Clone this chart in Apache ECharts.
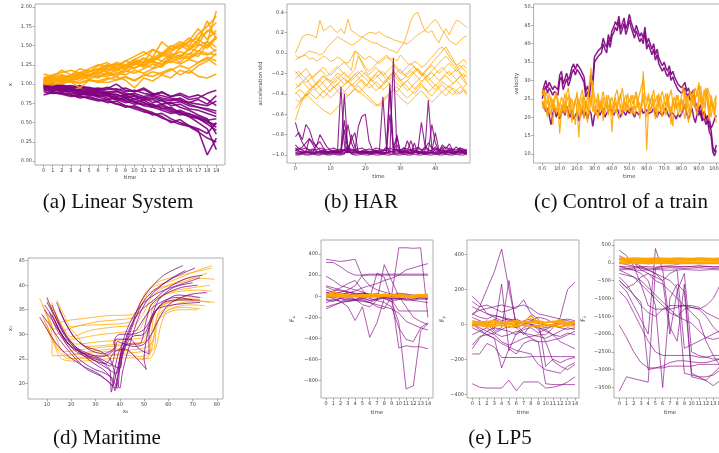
<!DOCTYPE html>
<html><head><meta charset="utf-8">
<script src="https://cdn.jsdelivr.net/npm/echarts@6/dist/echarts.min.js"></script>
<style>html,body{margin:0;padding:0;background:#fff}#c{width:719px;height:453px}</style>
</head><body><div id="c"></div>
<script>
// ---------- (a) Linear System ----------
const linOrange = [
[1.05,1.07,1.04,1.10,1.08,1.12,1.15,1.13,1.18,1.16,1.22,1.25,1.21,1.30,1.28,1.35,1.33,1.40,1.38,1.45],
[1.02,1.04,1.08,1.06,1.12,1.10,1.14,1.20,1.17,1.24,1.20,1.28,1.35,1.30,1.40,1.36,1.45,1.52,1.47,1.60],
[1.08,1.12,1.15,1.18,1.14,1.20,1.25,1.22,1.28,1.25,1.32,1.38,1.45,1.40,1.50,1.46,1.55,1.60,1.68,1.80],
[1.00,0.99,1.02,1.03,1.01,1.05,1.04,1.08,1.06,1.10,1.05,1.12,1.10,1.15,1.20,1.12,1.18,1.10,1.08,1.13],
[1.04,1.06,1.10,1.08,1.15,1.18,1.12,1.22,1.26,1.20,1.30,1.26,1.34,1.40,1.36,1.42,1.38,1.50,1.55,1.48],
[1.13,1.10,1.18,1.12,1.20,1.16,1.24,1.28,1.20,1.30,1.36,1.42,1.35,1.55,1.45,1.50,1.60,1.52,1.70,1.65],
[1.03,1.05,1.02,1.06,1.09,1.07,1.11,1.10,1.15,1.12,1.18,1.14,1.20,1.24,1.30,1.26,1.32,1.28,1.35,1.30],
[1.06,1.03,1.08,1.12,1.10,1.16,1.20,1.18,1.24,1.30,1.26,1.34,1.30,1.36,1.42,1.50,1.44,1.58,1.50,1.62],
[1.01,1.03,1.06,1.04,1.08,1.13,1.10,1.15,1.12,1.20,1.28,1.22,1.30,1.25,1.38,1.32,1.47,1.42,1.55,1.95],
[1.07,1.09,1.06,1.12,1.15,1.11,1.18,1.16,1.22,1.19,1.25,1.30,1.28,1.26,1.32,1.38,1.35,1.43,1.40,1.38],
[1.02,1.05,1.03,1.07,1.05,1.10,1.08,1.13,1.10,1.17,1.14,1.20,1.26,1.22,1.35,1.28,1.40,1.36,1.52,1.42],
[1.09,1.07,1.11,1.09,1.13,1.16,1.20,1.25,1.22,1.20,1.27,1.24,1.32,1.38,1.34,1.47,1.56,1.72,1.58,1.70],
[1.00,1.02,1.00,1.04,1.02,1.06,1.03,1.02,1.05,1.09,1.04,1.11,1.16,1.13,1.18,1.24,1.20,1.28,1.33,1.25],
[1.05,1.08,1.05,1.11,1.14,1.10,1.17,1.25,1.18,1.24,1.32,1.28,1.45,1.38,1.48,1.55,1.50,1.65,1.75,1.88],
[1.04,1.02,1.06,1.03,0.95,1.05,1.02,1.06,1.10,1.05,0.95,1.08,1.04,1.12,1.08,1.18,1.14,1.24,1.30,1.40],
[1.06,1.10,1.12,1.09,1.14,1.12,1.18,1.22,1.26,1.23,1.29,1.33,1.30,1.38,1.45,1.52,1.48,1.56,1.82,1.58]
];
const linPurple = [
[0.98,0.96,0.97,0.94,0.92,0.93,0.90,0.88,0.86,0.84,0.85,0.80,0.82,0.78,0.75,0.77,0.72,0.70,0.68,0.65],
[0.95,0.93,0.90,0.91,0.88,0.85,0.86,0.82,0.80,0.76,0.78,0.72,0.70,0.66,0.62,0.64,0.58,0.55,0.50,0.48],
[1.00,0.98,0.99,0.96,0.97,0.94,0.95,0.93,0.94,0.90,0.92,0.88,0.86,0.90,0.84,0.86,0.80,0.82,0.88,0.92],
[0.92,0.90,0.88,0.86,0.84,0.82,0.80,0.78,0.74,0.72,0.68,0.64,0.62,0.56,0.52,0.48,0.45,0.38,0.30,0.25],
[0.97,0.95,0.96,0.93,0.90,0.91,0.87,0.89,0.84,0.86,0.80,0.83,0.76,0.79,0.72,0.74,0.68,0.66,0.62,0.58],
[0.99,0.97,0.94,0.95,0.92,0.89,0.90,0.86,0.87,0.82,0.84,0.79,0.80,0.74,0.76,0.70,0.66,0.60,0.55,0.35],
[0.94,0.96,0.92,0.93,0.89,0.90,0.85,0.87,0.81,0.83,0.77,0.79,0.73,0.68,0.70,0.62,0.58,0.50,0.42,0.15],
[0.96,0.94,0.95,0.92,0.93,0.90,0.92,0.88,0.90,0.86,0.88,0.84,0.86,0.82,0.80,0.78,0.76,0.74,0.72,0.78],
[0.90,0.88,0.89,0.86,0.82,0.84,0.80,0.76,0.78,0.72,0.70,0.66,0.60,0.62,0.55,0.50,0.46,0.40,0.08,0.30],
[0.98,1.00,0.97,0.98,0.95,0.96,0.92,0.94,1.00,0.92,0.90,0.95,0.88,0.85,0.82,0.80,0.74,0.70,0.66,0.62],
[0.93,0.91,0.92,0.88,0.86,0.87,0.83,0.80,0.82,0.78,0.74,0.76,0.70,0.72,0.66,0.60,0.62,0.56,0.52,0.44],
[0.97,0.95,0.93,0.94,0.91,0.88,0.89,0.85,0.83,0.79,0.81,0.76,0.71,0.74,0.68,0.64,0.59,0.56,0.48,0.40],
[0.99,0.97,0.98,0.95,0.96,0.92,0.94,0.90,0.91,0.88,0.86,0.82,0.84,0.80,0.78,0.82,0.76,0.80,0.74,0.85],
[0.95,0.92,0.93,0.90,0.87,0.88,0.84,0.85,0.80,0.81,0.76,0.73,0.74,0.69,0.64,0.66,0.61,0.58,0.53,0.55],
[0.86,0.89,0.87,0.84,0.85,0.81,0.78,0.80,0.75,0.70,0.72,0.67,0.63,0.58,0.50,0.54,0.46,0.42,0.36,0.50],
[1.01,0.99,0.96,0.97,0.98,0.95,0.93,0.96,0.92,0.95,0.90,0.93,0.87,0.89,0.84,0.88,0.83,0.86,0.80,0.72]
];
const linTicksX = [0,1,2,3,4,5,6,7,8,9,10,11,12,13,14,15,16,17,18,19];
const linTicksY = [0,0.25,0.5,0.75,1,1.25,1.5,1.75,2];

// ---------- (b) HAR ----------
const harOrange = [
[0.00,0.08,0.16,0.18,0.18,0.17,0.15,0.32,0.22,0.24,0.27,0.23,0.20,0.24,0.19,0.33,0.22,0.20,0.17,0.16,0.14,0.12,0.10,0.10,0.08,0.06,0.05,0.03,0.02,0.00,0.05,0.10,0.20,0.32,0.38,0.40,0.30,0.22,0.20,0.22,0.15,0.10,0.18,0.24,0.18,0.26,0.32,0.31,0.28,0.25],
[-0.07,-0.04,-0.03,0.00,0.02,0.01,0.00,-0.02,0.00,0.05,0.09,0.12,0.16,0.14,0.12,0.10,0.08,0.09,0.12,0.15,0.18,0.20,0.20,0.19,0.21,0.18,0.16,0.15,0.13,0.12,0.11,0.10,0.09,0.12,0.15,0.18,0.20,0.22,0.26,0.30,0.33,0.28,0.22,0.18,0.12,0.10,0.08,0.12,0.15,0.17],
[-0.02,-0.05,-0.03,-0.02,-0.06,-0.05,-0.08,-0.06,-0.03,-0.05,-0.08,-0.07,-0.04,-0.06,-0.09,-0.10,-0.05,0.02,0.00,-0.04,-0.06,-0.03,-0.05,-0.08,-0.10,-0.07,-0.04,-0.06,-0.05,-0.08,-0.02,-0.06,-0.10,-0.12,-0.08,-0.10,-0.14,-0.12,-0.08,-0.04,0.00,0.04,0.06,0.02,-0.04,-0.08,-0.12,-0.10,-0.06,-0.10],
[-0.20,-0.18,-0.22,-0.25,-0.21,-0.26,-0.30,-0.27,-0.23,-0.25,-0.28,-0.24,-0.20,-0.22,-0.26,-0.29,-0.25,-0.21,-0.18,-0.22,-0.25,-0.28,-0.24,-0.20,-0.17,-0.21,-0.26,-0.23,-0.19,-0.22,-0.27,-0.25,-0.21,-0.18,-0.20,-0.24,-0.28,-0.25,-0.22,-0.19,-0.23,-0.27,-0.24,-0.20,-0.18,-0.22,-0.26,-0.23,-0.20,-0.24],
[-0.30,-0.33,-0.28,-0.25,-0.29,-0.34,-0.31,-0.27,-0.30,-0.35,-0.38,-0.33,-0.30,-0.34,-0.31,-0.27,-0.30,-0.33,-0.29,-0.26,-0.30,-0.34,-0.32,-0.28,-0.31,-0.36,-0.33,-0.29,-0.26,-0.30,-0.33,-0.30,-0.27,-0.31,-0.35,-0.32,-0.28,-0.25,-0.29,-0.33,-0.36,-0.32,-0.28,-0.31,-0.34,-0.30,-0.27,-0.31,-0.34,-0.30],
[-0.40,-0.36,-0.38,-0.42,-0.39,-0.35,-0.37,-0.41,-0.44,-0.40,-0.36,-0.33,-0.37,-0.41,-0.38,-0.34,-0.31,-0.35,-0.39,-0.36,-0.32,-0.29,-0.33,-0.37,-0.34,-0.30,-0.27,-0.31,-0.35,-0.38,-0.34,-0.30,-0.33,-0.37,-0.40,-0.36,-0.32,-0.35,-0.39,-0.42,-0.38,-0.34,-0.31,-0.35,-0.38,-0.41,-0.37,-0.33,-0.36,-0.40],
[-0.66,-0.55,-0.46,-0.40,-0.36,-0.33,-0.35,-0.32,-0.28,-0.25,-0.27,-0.30,-0.26,-0.22,-0.19,-0.23,-0.27,-0.24,-0.20,-0.17,-0.21,-0.25,-0.28,-0.24,-0.21,-0.18,-0.22,-0.26,-0.23,-0.19,-0.16,-0.20,-0.24,-0.21,-0.17,-0.15,-0.19,-0.23,-0.27,-0.24,-0.20,-0.17,-0.14,-0.18,-0.22,-0.19,-0.16,-0.20,-0.24,-0.21],
[-0.45,-0.48,-0.44,-0.40,-0.43,-0.47,-0.50,-0.53,-0.56,-0.58,-0.60,-0.57,-0.53,-0.49,-0.45,-0.42,-0.38,-0.35,-0.37,-0.40,-0.43,-0.46,-0.49,-0.52,-0.50,-0.46,-0.42,-0.39,-0.36,-0.40,-0.44,-0.47,-0.50,-0.47,-0.43,-0.40,-0.37,-0.41,-0.45,-0.48,-0.45,-0.41,-0.38,-0.35,-0.32,-0.36,-0.40,-0.38,-0.35,-0.38],
[-0.25,-0.22,-0.26,-0.29,-0.26,-0.23,-0.20,-0.17,-0.14,-0.18,-0.22,-0.19,-0.15,-0.12,-0.09,-0.13,-0.17,0.02,-0.02,-0.08,-0.14,-0.18,-0.15,-0.11,-0.08,-0.05,-0.02,-0.06,-0.10,-0.14,-0.18,-0.22,-0.19,-0.16,-0.13,-0.17,-0.21,-0.18,-0.14,-0.10,-0.06,-0.02,0.02,0.06,0.00,-0.06,-0.12,-0.18,-0.24,-0.30],
[-0.35,-0.31,-0.28,-0.32,-0.36,-0.33,-0.29,-0.25,-0.22,-0.26,-0.30,-0.34,-0.31,-0.27,-0.24,-0.28,-0.32,-0.29,-0.25,-0.22,-0.19,-0.23,-0.27,-0.31,-0.35,-0.32,-0.28,-0.24,-0.21,-0.25,-0.29,-0.33,-0.37,-0.34,-0.30,-0.27,-0.23,-0.20,-0.24,-0.28,-0.32,-0.29,-0.25,-0.22,-0.26,-0.30,-0.27,-0.23,-0.27,-0.31],
[-0.38,-0.42,-0.46,-0.43,-0.39,-0.42,-0.45,-0.41,-0.37,-0.40,-0.44,-0.41,-0.37,-0.34,-0.38,-0.42,-0.39,-0.35,-0.32,-0.36,-0.40,-0.43,-0.47,-0.50,-0.52,-0.48,-0.44,-0.40,-0.36,-0.33,-0.37,-0.41,-0.44,-0.41,-0.37,-0.33,-0.30,-0.34,-0.38,-0.35,-0.31,-0.35,-0.39,-0.42,-0.38,-0.34,-0.37,-0.40,-0.37,-0.41],
[-0.55,-0.50,-0.45,-0.41,-0.37,-0.33,-0.30,-0.34,-0.38,-0.35,-0.31,-0.27,-0.23,-0.27,-0.31,-0.28,-0.24,-0.20,-0.24,-0.28,-0.32,-0.29,-0.25,-0.21,-0.25,-0.29,-0.26,-0.22,-0.18,-0.22,-0.26,-0.30,-0.27,-0.23,-0.19,-0.16,-0.20,-0.24,-0.21,-0.17,-0.14,-0.10,-0.06,-0.03,-0.07,-0.11,-0.15,-0.12,-0.16,-0.19],
[-0.18,-0.22,-0.19,-0.15,-0.20,-0.24,-0.21,-0.17,-0.19,-0.23,-0.20,-0.16,-0.13,-0.17,-0.21,-0.24,-0.20,-0.16,-0.03,-0.10,-0.17,-0.21,-0.18,-0.14,-0.18,-0.22,-0.19,-0.15,-0.12,-0.16,-0.20,-0.17,-0.13,-0.10,-0.14,-0.18,-0.22,-0.19,-0.15,-0.12,-0.16,-0.20,-0.17,-0.13,-0.10,-0.14,-0.18,-0.15,-0.12,-0.15]
];
const harPurple = [
[-0.68,-0.80,-0.88,-0.93,-0.96,-0.97,-0.98,-0.98,-0.97,-0.98,-0.98,-0.97,-0.98,-0.33,-0.90,-0.97,-0.98,-0.97,-0.98,-0.98,-0.97,-0.98,-0.98,-0.97,-0.98,-0.98,-0.97,-0.98,-0.05,-0.95,-0.98,-0.97,-0.98,-0.98,-0.97,-0.98,-0.98,-0.97,-0.98,-0.97,-0.98,-0.98,-0.97,-0.98,-0.97,-0.98,-0.97,-0.98,-0.97,-0.98],
[-0.82,-0.78,-0.85,-0.70,-0.75,-0.86,-0.92,-0.95,-0.96,-0.97,-0.96,-0.97,-0.96,-0.97,-0.66,-0.92,-0.96,-0.97,-0.96,-0.97,-0.96,-0.97,-0.96,-0.97,-0.96,-0.43,-0.92,-0.96,-0.97,-0.96,-0.97,-0.96,-0.97,-0.96,-0.97,-0.96,-0.97,-0.96,-0.46,-0.94,-0.96,-0.97,-0.96,-0.97,-0.96,-0.97,-0.96,-0.97,-0.96,-0.97],
[-0.90,-0.94,-0.92,-0.88,-0.84,-0.88,-0.92,-0.80,-0.86,-0.92,-0.95,-0.96,-0.95,-0.96,-0.95,-0.96,-0.95,-0.96,-0.72,-0.62,-0.60,-0.86,-0.95,-0.96,-0.95,-0.96,-0.95,-0.30,-0.94,-0.95,-0.96,-0.95,-0.96,-0.95,-0.96,-0.95,-0.68,-0.90,-0.95,-0.96,-0.78,-0.95,-0.96,-0.95,-0.96,-0.95,-0.92,-0.96,-0.95,-0.96],
[-0.99,-0.99,-0.98,-0.99,-0.99,-0.98,-0.99,-0.99,-0.98,-0.99,-0.99,-0.98,-0.99,-0.99,-0.75,-0.96,-0.85,-0.78,-0.98,-0.99,-0.98,-0.99,-0.99,-0.98,-0.99,-0.99,-0.98,-0.99,-0.99,-0.80,-0.98,-0.99,-0.99,-0.98,-0.88,-0.99,-0.98,-0.99,-0.99,-0.98,-0.99,-0.99,-0.98,-0.99,-0.99,-0.98,-0.99,-0.99,-0.98,-0.99],
[-0.95,-0.97,-0.96,-0.97,-0.84,-0.90,-0.96,-0.97,-0.96,-0.97,-0.96,-0.97,-0.96,-0.97,-0.96,-0.70,-0.88,-0.96,-0.97,-0.96,-0.97,-0.96,-0.97,-0.96,-0.97,-0.96,-0.92,-0.97,-0.96,-0.90,-0.96,-0.93,-0.96,-0.86,-0.96,-0.97,-0.96,-0.92,-0.96,-0.70,-0.88,-0.96,-0.90,-0.94,-0.89,-0.96,-0.97,-0.93,-0.96,-0.95],
[-0.93,-0.96,-0.98,-0.97,-0.98,-0.97,-0.90,-0.87,-0.93,-0.97,-0.98,-0.97,-0.98,-0.97,-0.40,-0.97,-0.98,-0.97,-0.98,-0.97,-0.98,-0.97,-0.98,-0.97,-0.98,-0.97,-0.98,-0.35,-0.97,-0.98,-0.97,-0.98,-0.97,-0.98,-0.97,-0.98,-0.97,-0.98,-0.97,-0.98,-0.94,-0.97,-0.92,-0.98,-0.95,-0.97,-0.98,-0.94,-0.98,-0.97],
[-1.00,-1.00,-0.99,-1.00,-1.00,-0.99,-1.00,-1.00,-0.99,-1.00,-1.00,-0.99,-1.00,-1.00,-0.99,-0.90,-0.99,-1.00,-1.00,-0.99,-1.00,-1.00,-0.99,-1.00,-1.00,-0.99,-1.00,-1.00,-0.99,-1.00,-1.00,-0.99,-1.00,-1.00,-0.99,-1.00,-1.00,-0.99,-1.00,-1.00,-0.99,-1.00,-1.00,-0.99,-1.00,-1.00,-0.99,-1.00,-1.00,-0.99],
[-0.96,-0.93,-0.95,-0.97,-0.96,-0.95,-0.97,-0.96,-0.95,-0.97,-0.96,-0.95,-0.97,-0.96,-0.95,-0.97,-0.96,-0.95,-0.97,-0.96,-0.95,-0.97,-0.96,-0.95,-0.97,-0.96,-0.95,-0.97,-0.96,-0.95,-0.97,-0.96,-0.86,-0.95,-0.97,-0.92,-0.95,-0.97,-0.96,-0.95,-0.92,-0.96,-0.95,-0.97,-0.93,-0.95,-0.97,-0.96,-0.95,-0.97],
[-0.97,-0.98,-0.97,-0.98,-0.97,-0.98,-0.97,-0.98,-0.97,-0.98,-0.97,-0.98,-0.97,-0.98,-0.97,-0.98,-0.80,-0.92,-0.97,-0.98,-0.97,-0.98,-0.97,-0.98,-0.97,-0.98,-0.97,-0.60,-0.93,-0.82,-0.97,-0.98,-0.97,-0.98,-0.97,-0.98,-0.97,-0.98,-0.97,-0.98,-0.97,-0.98,-0.97,-0.98,-0.97,-0.98,-0.97,-0.98,-0.97,-0.98],
[-0.94,-0.95,-0.94,-0.93,-0.95,-0.94,-0.95,-0.93,-0.94,-0.95,-0.94,-0.93,-0.95,-0.94,-0.95,-0.93,-0.94,-0.95,-0.94,-0.93,-0.95,-0.94,-0.95,-0.93,-0.94,-0.95,-0.94,-0.93,-0.95,-0.94,-0.95,-0.93,-0.94,-0.95,-0.94,-0.93,-0.95,-0.94,-0.88,-0.93,-0.94,-0.95,-0.94,-0.92,-0.95,-0.94,-0.95,-0.93,-0.94,-0.95],
[-0.98,-0.99,-0.98,-0.96,-0.98,-0.99,-0.98,-0.96,-0.98,-0.99,-0.98,-0.96,-0.98,-0.99,-0.98,-0.96,-0.98,-0.99,-0.98,-0.96,-0.98,-0.99,-0.98,-0.96,-0.98,-0.99,-0.98,-0.96,-0.98,-0.99,-0.98,-0.96,-0.98,-0.99,-0.98,-0.96,-0.98,-0.99,-0.98,-0.96,-0.98,-0.99,-0.98,-0.96,-0.98,-0.99,-0.98,-0.96,-0.98,-0.99]
];
const harTicksX = [0,10,20,30,40];
const harTicksY = [-1.0,-0.8,-0.6,-0.4,-0.2,0.0,0.2,0.4];

// ---------- (c) Control of a train ----------
const trainPurple = [
[26.5,28.5,30.0,28.0,29.5,30.0,27.5,28.5,29.0,27.5, 31.5,32.5,29.0,30.5,32.0,30.0,31.5,33.5,34.5,33.0, 34.5,34.0,33.0,33.5,31.0,27.0,28.5,26.5,31.5,30.0, 36.5,37.0,38.0,37.5,39.0,41.5,40.0,39.0,42.5,40.5, 43.5,44.5,46.0,45.0,47.5,44.0,45.5,47.0,44.0,45.5, 48.0,46.0,44.5,43.0,45.0,43.5,42.0,43.0,41.5,44.5, 40.0,41.5,42.0,38.5,40.0,37.0,38.5,36.0,36.5,34.0, 35.0,33.5,32.5,34.0,31.5,32.5,31.0,30.0,29.0,29.5, 28.0,27.5,29.5,27.0,28.0,26.0,25.5,27.5,24.0,23.0, 22.0,23.5,20.5,21.5,19.5,20.5,17.5,16.5,12.0,10.5, 12.5],
[25.0,27.0,28.5,26.5,28.0,28.5,26.0,27.0,27.5,26.0, 30.0,31.0,27.5,29.0,30.5,28.5,30.0,32.0,33.0,31.5, 33.0,32.5,31.5,32.0,29.5,25.5,27.0,25.0,30.0,28.5, 35.0,35.5,36.5,36.0,37.5,40.0,38.5,37.5,41.0,39.0, 42.0,43.0,44.5,43.5,46.0,42.5,44.0,45.5,42.5,44.0, 46.5,44.5,43.0,41.5,43.5,42.0,40.5,41.5,40.0,43.0, 38.5,40.0,40.5,37.0,38.5,35.5,37.0,34.5,35.0,32.5, 33.5,32.0,31.0,32.5,30.0,31.0,29.5,28.5,27.5,28.0, 26.5,26.0,28.0,25.5,26.5,24.5,24.0,26.0,22.5,21.5, 20.5,22.0,19.0,20.0,18.0,19.0,16.0,15.0,10.5,9.5, 11.0],
[24.0,23.0,21.5,22.5,20.5,18.0,21.0,22.5,20.0,21.5, 19.5,21.0,22.0,20.5,23.0,21.5,20.0,22.0,19.5,20.5, 21.5,19.0,20.5,22.0,20.0,21.5,19.5,22.0,21.0,17.5, 20.5,21.0,22.0,20.5,21.5,22.5,20.0,21.0,22.0,21.5, 22.0,20.5,21.5,22.5,21.0,20.0,22.0,21.5,20.5,22.0, 21.0,22.5,21.0,20.0,21.5,22.0,20.5,22.5,21.0,20.5, 22.0,21.0,20.5,21.5,22.5,21.0,20.0,21.5,22.0,20.5, 21.5,22.5,21.0,20.0,21.5,22.0,20.5,19.5,21.0,20.0, 20.5,22.0,23.5,21.0,19.5,21.0,22.5,20.0,18.5,21.0, 22.0,20.5,19.0,21.5,20.0,18.5,19.5,17.0,18.0,19.5, 20.5]
];
const trainOrange = [
[27.5,26.0,24.0,21.0,23.5,25.5,22.0,24.5,26.0,23.0, 15.5,22.0,23.5,21.0,24.0,26.0,22.5,20.0,23.5,25.0, 22.0,14.5,23.0,25.5,21.5,24.0,22.0,29.0,33.5,25.0, 21.0,23.5,25.0,22.0,24.5,21.5,23.0,26.0,22.5,24.0, 16.0,23.5,25.5,22.0,24.5,26.5,23.0,21.5,24.0,22.5, 25.0,23.5,21.0,24.5,26.0,22.5,24.0,21.5,32.5,25.0, 11.0,22.0,24.5,26.0,23.0,21.5,24.0,26.5,22.5,20.0, 24.5,23.0,26.0,22.0,18.0,24.5,25.5,22.0,24.0,21.5, 25.0,23.5,27.5,22.0,18.5,24.0,26.5,23.0,25.0,27.0, 29.5,24.0,21.5,26.0,28.0,23.5,19.0,24.5,22.0,20.5, 24.0],
[24.5,22.0,27.0,25.5,22.5,20.5,25.0,23.0,21.5,24.5, 22.0,20.5,24.0,26.5,21.5,23.0,25.5,18.5,22.0,24.0, 27.0,21.0,20.0,23.5,26.0,22.5,18.5,25.5,23.0,30.0, 24.0,22.0,19.5,24.0,22.5,25.5,21.0,23.5,20.5,25.0, 22.0,24.0,21.0,23.5,25.5,22.0,20.5,24.5,26.0,23.0, 21.5,24.5,26.0,22.0,23.5,25.0,21.0,23.0,26.5,22.0, 23.5,25.5,21.5,23.0,25.0,22.5,20.0,24.0,25.5,23.5, 21.5,24.0,26.5,23.0,21.0,25.0,22.5,24.5,26.0,23.0, 21.0,24.5,22.0,26.0,23.5,21.0,25.5,27.5,24.0,22.0, 26.5,28.5,25.0,22.5,27.0,24.5,21.5,26.0,23.5,22.0, 25.5],
[22.5,24.5,22.0,20.0,24.0,22.5,18.0,23.5,21.0,22.5, 20.0,23.5,21.5,24.5,22.0,19.5,25.0,22.5,21.0,18.0, 23.5,25.0,21.0,23.0,19.5,24.5,22.0,20.5,26.0,21.5, 23.0,20.5,24.0,21.5,23.5,19.0,22.5,24.5,21.0,23.0, 20.5,22.5,24.0,21.0,19.5,23.5,22.0,25.0,21.5,23.5, 24.0,21.0,23.0,20.5,22.5,24.5,19.5,23.0,25.5,22.0, 20.0,23.5,21.5,24.0,22.0,19.5,23.0,25.0,21.0,23.5, 22.0,20.5,24.0,21.5,23.0,17.5,22.5,24.0,20.5,22.0, 24.5,22.0,19.5,23.5,22.0,20.0,23.0,25.5,22.5,20.5, 24.0,26.5,22.0,19.5,24.5,27.5,22.0,20.0,23.5,21.5, 18.5],
[26.0,27.5,25.0,23.5,26.5,24.0,22.5,25.5,27.0,24.5, 23.0,25.5,24.0,22.0,26.5,28.0,23.5,25.0,22.5,24.5, 26.0,23.0,25.5,27.5,24.0,22.5,26.0,27.5,31.0,28.0, 25.5,24.0,26.5,23.5,25.0,27.0,24.5,22.5,26.0,24.0, 25.5,23.0,26.0,27.5,24.0,25.5,28.0,24.5,23.0,26.5, 24.0,26.0,23.5,25.5,27.0,24.5,26.5,28.5,30.5,26.0, 24.5,26.5,23.5,25.0,27.5,24.0,26.0,23.5,25.5,27.0, 24.5,26.5,23.0,25.5,27.5,24.0,22.5,26.0,24.5,23.0, 26.0,28.5,24.5,22.5,25.5,27.0,24.0,26.5,28.0,25.5, 28.5,26.0,23.5,27.5,25.0,28.0,26.5,24.0,22.5,24.5, 26.0]
];
const trainTicksX = [0,10,20,30,40,50,60,70,80,90,100];
const trainTicksY = [10,15,20,25,30,35,40,45,50];

// ---------- (d) Maritime (x0, x1) ----------
const marOrange = [
[[7,37.3],[10,34],[13,31],[16,32.5],[25,33.2],[35,33.8],[45,34],[48,35.5],[50,38],[55,40.5],[65,42],[78,43.5]],
[[8,36],[11,33],[14,30],[18,31],[30,32.5],[40,33],[46,33.5],[49,36],[52,38.5],[60,40],[70,41.5],[79,41.2]],
[[10,37],[13,34],[16,31],[20,29],[30,29.8],[42,30.5],[48,31],[51,34],[54,37],[62,38.5],[72,39],[78,38.8]],
[[12,36.5],[14,33.5],[17,30.5],[22,28],[32,28.5],[44,29],[50,29.5],[53,32.5],[56,35.5],[64,37],[74,37.5]],
[[9,35],[12,30],[12.2,25.6],[20,25.8],[35,26.5],[48,27],[53,28],[55,33],[58,36],[68,37],[77,36.5]],
[[11,33],[14,29],[17,26],[21,25],[30,25.2],[40,26],[50,26.5],[54,27],[55,31],[57,34],[65,35.5],[73,35.2]],
[[13,35],[16,32],[20,29.5],[28,30.8],[38,31.5],[46,32],[50,34.5],[53,37.5],[58,39.5],[68,41],[76,42.5]],
[[15,35.5],[18,32],[22,30],[26,27.5],[35,27.8],[45,28.2],[51,28.5],[54,31],[56,34],[62,36],[72,36.8],[79,36.5]],
[[8,34],[11,30],[15,26.5],[19,25],[28,25.5],[40,25.8],[48,25.5],[52,26],[53,30],[55,35],[62,37],[70,38]],
[[10,32],[13,28],[16,25],[23,24.5],[35,25],[45,25.2],[52,25],[55,27.5],[57,32],[60,35],[70,36],[75,35.8]],
[[14,37],[17,34],[20,31.5],[24,31.8],[34,32],[44,32.5],[47,34.5],[49,37],[53,39.5],[62,41],[72,43],[78,44]],
[[9,33],[12,29.5],[15,27],[18,26.5],[26,27],[36,27.5],[46,28],[50,28.5],[52,31],[54,36],[60,38.5],[70,39.5],[77,40]],
[[11,36],[14,32],[18,28],[22,26],[28,26.5],[38,27],[44,26.5],[48,24.8],[52,25.5],[54,29],[56,33],[64,35],[72,35]]
];
const marPurple = [
[[8,34],[11,32],[15,29],[20,26],[26,23],[32,21.5],[36,20],[38,19],[39,21],[40,25],[42,28],[45,32],[48,36],[52,39],[58,42],[66,44]],
[[10,37.5],[13,34],[17,30],[22,27],[28,24.5],[34,22.5],[37,20.5],[38,18.5],[39.5,22],[41,26],[44,30],[47,34],[51,37.5],[57,40],[64,42],[71,43.5]],
[[12,36],[15,32.5],[19,29],[24,26.5],[30,24.5],[35,23],[38.5,22],[40,24.5],[41,28],[43,31],[46,34],[50,36.5],[56,38.5],[64,40],[73,41.5]],
[[9,35],[12,33],[16,30],[21,27.5],[27,25.5],[32,24.5],[36,22.5],[36.5,18.2],[38,23],[40,27],[43,29],[47,31],[51,34],[55,36],[63,37.5],[70,37]],
[[11,34.5],[14,31],[18,28],[23,25],[29,23],[34,22],[37,21],[39,19],[40,23],[42,27],[45,29.5],[50,30],[52,32],[55,35],[62,36],[73,36.5]],
[[13,33],[16,30],[20,27.5],[26,26],[33,25.5],[38,27],[39,28.5],[42,28],[46,27.5],[50,28],[53,30],[56,33],[60,36],[68,38],[76,38.5]],
[[10,36.5],[14,33],[18,29.5],[23,27],[30,25.5],[36,24],[40,23],[41,26],[43,30],[46,33],[49,35],[54,37],[60,39.5],[68,41.5],[74,42]],
[[7,33.5],[10,31],[14,28],[19,25.5],[25,23.5],[31,22],[35,20.5],[37,19.5],[38,21],[39.5,24],[41,27],[43.5,28],[48,28],[51,33],[53,36],[58,38],[65,39.5],[72,40]],
[[15,35],[18,32],[22,29],[27,27],[33,26],[38,27.5],[38,29],[40,30],[45,30],[50,31],[53,33.5],[56,37],[62,39.5],[70,40.5]],
[[12,34],[15,31],[19,28],[25,26],[31,25],[36,23.5],[38,27],[37.5,28.5],[39,29],[44,29],[48,27],[52,26],[52,30],[54,34],[58,36.5],[66,37],[73,37]],
[[9,36],[13,33],[17,29],[22,26.5],[28,25],[34,24],[38,26.5],[42,27],[47,25],[51,22.8],[50,25],[51,29],[53,33],[57,36],[64,38],[73,37.5]],
[[14,36.5],[17,33],[21,29.5],[26,27.5],[32,26.5],[36,25],[39,20],[40,19],[41,22],[43,26],[46,31],[49,35],[53,38],[60,41],[67,43]]
];
const marTicksX = [10,20,30,40,50,60,70,80];
const marTicksY = [20,25,30,35,40,45];

// ---------- (e) LP5 ----------
const lpXOrange = [
[0,45,15,5,0,-5,0,5,20,10,0,-5,0,5,0],
[10,20,5,0,10,15,5,0,10,5,15,10,5,10,20],
[-10,0,-5,-10,-5,0,-10,-5,0,-10,-5,-10,-15,-5,-10],
[5,10,20,15,5,10,15,20,10,15,5,0,10,15,5]
];
const lpXPurple = [
[60,40,30,20,10,30,20,0,10,-10,20,0,-20,10,0],
[-40,-30,-50,-20,-30,-10,-40,-20,-10,-30,-20,-40,-30,-10,-20],
[20,30,10,40,20,30,10,20,0,10,30,20,10,0,10],
[-60,-40,-20,-50,-30,-40,-60,-30,-20,-50,-30,-10,-40,-20,-30],
[90,60,50,40,30,20,10,0,-10,-20,-10,0,10,0,-10],
[-120,-90,-60,-40,-30,-20,-40,-30,-10,-20,-30,-20,-10,-30,-20],
[190,150,100,80,60,40,20,10,0,-10,-20,-30,-40,-50,-60],
[40,10,-10,20,0,-20,10,30,0,-10,10,20,0,-10,10],
[350,340,330,340,350,180,100,60,40,20,10,0,-20,-10,-10],
[320,320,280,230,200,200,200,200,200,200,200,200,200,200,200],
[0,-20,-50,-100,-230,-100,-390,-250,-20,-50,-250,-880,-850,-330,-260],
[0,10,0,-10,0,20,10,0,-20,0,460,460,455,460,-200],
[-100,-80,-60,-50,-40,-30,-60,-100,-120,0,-490,-470,-480,-480,-500],
[30,50,80,120,150,60,-20,220,180,-30,-140,-140,-140,-140,-140],
[-30,-50,-20,0,-30,-80,-100,-40,300,150,0,-100,-200,-240,-270],
[100,80,60,40,20,0,-20,-40,-60,-100,-300,-410,-430,-300,-250],
[0,20,40,60,100,200,210,210,210,210,210,210,210,210,210],
[0,-10,-20,-30,-40,-50,-60,-80,-100,-120,-160,-240,-270,-300,-320],
[-20,0,10,30,50,80,100,120,150,170,200,250,270,290,310]
];
const lpYOrange = [
[0,5,-5,0,5,0,-5,10,50,5,0,-5,5,0,5],
[10,15,5,10,15,5,10,15,10,5,10,15,10,5,10],
[-10,-5,-15,-10,-5,-15,-10,-5,-10,-15,-5,-10,-15,-5,-10],
[20,10,15,20,10,15,20,10,15,20,10,15,20,10,15]
];
const lpYPurple = [
[160,120,60,40,20,30,10,0,20,10,-10,0,10,-10,0],
[-140,-80,-40,-20,-30,-10,-20,0,-10,-20,-30,-10,-20,-30,-20],
[100,80,60,50,40,30,20,10,0,-10,-20,-10,0,10,0],
[130,100,110,90,70,80,100,110,90,60,50,40,30,20,10],
[-60,-40,-20,-50,-30,-40,-60,-30,-20,-50,-30,-60,-40,-20,-30],
[40,20,0,30,10,-20,0,20,30,10,-10,0,-20,10,0],
[-20,-40,-60,-50,-70,-60,-40,-50,-60,-70,-80,-60,-70,-50,-60],
[60,40,30,50,40,20,30,10,20,40,30,10,20,30,20],
[50,100,200,300,430,200,0,-50,-80,-100,-100,-90,-80,-60,-40],
[0,0,20,-30,230,-150,-50,-20,0,-20,-40,-60,-100,-120,-140],
[-10,20,0,-40,-20,250,-20,-60,0,-30,-100,-210,-240,-260,-230],
[-340,-360,-365,-365,-365,-320,-380,-330,-330,-330,-365,-360,-350,-330,-300],
[-170,-170,-110,-130,-190,-190,-190,-190,-185,-185,-185,-185,-185,-185,-185],
[-120,-70,-60,-80,-250,-140,-170,-110,-90,-100,-340,-345,-345,-345,-345],
[0,-20,-40,-60,-100,-120,-100,-80,-70,-60,-60,-20,40,200,240],
[60,80,90,100,110,100,90,140,60,30,-240,-200,-220,-200,-190],
[0,-30,-60,-80,-110,-130,-150,-160,-170,-230,-260,-270,-280,-240,-220]
];
const lpZOrange = [
[100,90,100,95,90,100,95,90,100,95,90,100,95,90,100],
[50,60,50,55,60,50,55,60,50,55,60,50,55,60,50],
[0,10,0,5,10,0,5,10,0,5,10,0,5,10,0],
[130,120,130,125,120,130,125,120,130,125,120,130,125,120,130],
[-20,-10,-20,-15,-10,-20,-15,-10,-20,-15,-10,-20,-15,-10,-20]
];
const lpZPurple = [
[-100,-110,-120,-100,-110,-120,-100,-110,-120,-100,-110,-120,-100,-110,-120],
[-200,-190,-200,-210,-200,-190,-200,-210,-200,-190,-200,-210,-200,-190,-200],
[0,-20,-10,0,-30,-10,0,-20,-40,-10,0,-30,-20,-10,0],
[-150,-160,-150,-140,-150,-160,-150,-140,-150,-160,-150,-140,-150,-160,-150],
[100,80,60,50,40,60,50,40,50,60,100,120,80,60,50],
[350,200,-100,-600,-1200,-1300,-1300,-1300,-1250,-1200,-1200,-1250,-1400,-1500,-1600],
[-3600,-3200,-3250,-3300,-3350,-150,-100,-80,-100,-120,-100,-80,-100,-120,-100],
[-1750,-2100,-2500,-2800,-2950,-2950,-2900,-2800,-2750,-2750,-2780,-2800,-2800,-2750,-2700],
[-500,-700,-900,-1100,-3000,-2950,-2950,-2900,-2900,-2900,-2900,-2850,-2850,-2850,-2850],
[-600,-800,-1200,-1600,-2000,400,-200,-1800,-2200,-600,-3100,-3200,-3200,-3150,-3000],
[-100,-150,-200,-300,-500,-1200,-3500,-1000,-600,-800,-3200,-3250,-3300,-3100,-2900],
[-300,-350,-400,-600,-800,-1000,-1200,-1400,-1500,-1300,-1250,-1300,-1500,-1800,-2000],
[-800,-1000,-1400,-1800,-2200,-2500,-2600,-2600,-2600,-2600,-2600,-2650,-2650,-2600,-2600],
[100,50,0,-100,-200,-300,-500,-2000,-800,-300,-2500,-2600,-2650,-2700,-2700],
[-200,-300,-400,-500,-700,-900,-1100,-1300,-1500,-1600,-1700,-1900,-2100,-2150,-2100],
[0,-50,-100,-150,-200,-300,-400,-500,-700,-3100,-3150,-3200,-3300,-3450,-3300],
[-400,-600,-900,-1200,-1400,-1500,-1300,-1200,-1200,-1200,-1250,-1300,-1200,-1000,-600],
[200,100,0,-200,-300,-400,-500,-300,-200,-2400,-2300,-2200,-2100,-2000,-1900],
[-500,-700,-600,-400,-300,-500,-600,-800,-1000,-1200,-1400,-1600,-2200,-2600,-2900]
];
const lpTicksX = [0,1,2,3,4,5,6,7,8,9,10,11,12,13,14];
const lpXTicksY = [-800,-600,-400,-200,0,200,400];
const lpYTicksY = [-400,-200,0,200,400];
const lpZTicksY = [-3500,-3000,-2500,-2000,-1500,-1000,-500,0,500];

const captions = ['(a) Linear System','(b) HAR','(c) Control of a train','(d) Maritime','(e) LP5'];

// ---------- build ----------
const ORANGE = '#FFA500', PURPLE = '#800080';
const TXT = '#444', FONT = 'DejaVu Sans';
const minus = s => String(s).replace('-', '\u2212');

const gridPos = [
  {left:35, top:4, width:190, height:161},
  {left:287, top:4, width:183, height:159},
  {left:533.6, top:4, width:191.4, height:159},
  {left:28, top:258, width:195, height:141},
  {left:321, top:240, width:112, height:158},
  {left:467, top:240, width:112, height:158},
  {left:614, top:240, width:112, height:158}
];
const grid = gridPos.map(g => Object.assign({show:true, borderColor:'#9a9a9a', borderWidth:0.8, backgroundColor:'#fff', containLabel:false, outerBoundsMode:'none'}, g));

function axis(gi, min, max, ticks, fmt, name, gap, nameRich) {
  const a = {
    type:'value', gridIndex:gi, min, max, scale:true,
    axisLine:{show:false, onZero:false}, splitLine:{show:false},
    axisTick:{show:true, length:2.5, customValues:ticks, lineStyle:{color:'#777', width:0.6}},
    axisLabel:{show:true, customValues:ticks, formatter:fmt, fontSize:5, color:TXT, fontFamily:FONT, margin:3},
    name, nameLocation:'middle', nameGap:gap,
    nameTextStyle:{fontSize:5.5, color:TXT, fontFamily:FONT}
  };
  if (nameRich) a.nameTextStyle.rich = nameRich;
  return a;
}
const fInt = v => minus(Math.round(v));
const f1 = v => minus(v.toFixed(1));
const f2 = v => minus(v.toFixed(2));
const subRich = {f:{fontSize:6, color:TXT, fontFamily:FONT}, s:{fontSize:4, color:TXT, fontFamily:FONT, padding:[3,0,0,0]}};

const xAxis = [
  axis(0,-0.95,19.95,linTicksX,fInt,'time',10),
  axis(1,-2.4,49.9,harTicksX,fInt,'time',11),
  axis(2,-5,105,trainTicksX,f1,'time',11),
  axis(3,2.2,82.5,marTicksX,fInt,'x\u2080',10),
  axis(4,-0.7,14.7,lpTicksX,fInt,'time',12),
  axis(5,-0.72,14.55,lpTicksX,fInt,'time',12),
  axis(6,-0.73,14.76,lpTicksX,fInt,'time',12)
];
const yAxis = [
  axis(0,-0.05,2.04,linTicksY,f2,'x',21),
  axis(1,-1.078,0.481,harTicksY,f1,'acceleration std',23),
  axis(2,7.55,50.8,trainTicksY,fInt,'velocity',14),
  axis(3,16.8,45.55,marTicksY,fInt,'x\u2081',14),
  axis(4,-966,534,lpXTicksY,fInt,'{f|F}{s|x}',25,subRich),
  axis(5,-421.7,481.7,lpYTicksY,fInt,'{f|F}{s|y}',21,subRich),
  axis(6,-3794,640,lpZTicksY,fInt,'{f|F}{s|z}',27,subRich)
];

const series = [];
function addLines(arrs, color, gi, w, op) {
  arrs.forEach(a => series.push({
    type:'line', xAxisIndex:gi, yAxisIndex:gi,
    data: a.map((v,i) => [i, v]),
    symbol:'none', showSymbol:false, silent:true, animation:false, clip:true,
    lineStyle:{color, width:w, opacity:op}
  }));
}
function addPaths(arrs, color, gi, w, op) {
  arrs.forEach(a => series.push({
    type:'line', xAxisIndex:gi, yAxisIndex:gi, data:a,
    symbol:'none', showSymbol:false, silent:true, animation:false, clip:true, smooth:0.3,
    lineStyle:{color, width:w, opacity:op}
  }));
}
addLines(linPurple, PURPLE, 0, 1.6, 0.9);
addLines(linOrange, ORANGE, 0, 1.6, 0.9);
addLines(harOrange, ORANGE, 1, 0.9, 0.85);
addLines(harPurple, PURPLE, 1, 1.1, 0.85);
addLines(trainPurple, PURPLE, 2, 1.5, 0.9);
addLines(trainOrange, ORANGE, 2, 1.2, 0.9);
addPaths(marOrange, ORANGE, 3, 0.9, 0.85);
addPaths(marPurple, PURPLE, 3, 0.9, 0.85);
addLines(lpXPurple, PURPLE, 4, 0.8, 0.8);
addLines(lpXOrange, ORANGE, 4, 1.6, 1);
addLines(lpYPurple, PURPLE, 5, 0.8, 0.8);
addLines(lpYOrange, ORANGE, 5, 1.6, 1);
addLines(lpZPurple, PURPLE, 6, 0.8, 0.8);
addLines(lpZOrange, ORANGE, 6, 1.6, 1);

const capPos = [[118,202],[361,202],[621,202],[107,438],[500,438]];
const graphic = captions.map((t,i) => ({
  type:'text', x:capPos[i][0], y:capPos[i][1], silent:true,
  style:{text:t, fill:'#111', font:'21px "Liberation Serif"', textAlign:'center', textVerticalAlign:'middle'}
}));

const chart = echarts.init(document.getElementById('c'), null, {renderer:'canvas'});
chart.setOption({animation:false, backgroundColor:'#fff', grid, xAxis, yAxis, series, graphic});
</script>
</body></html>
